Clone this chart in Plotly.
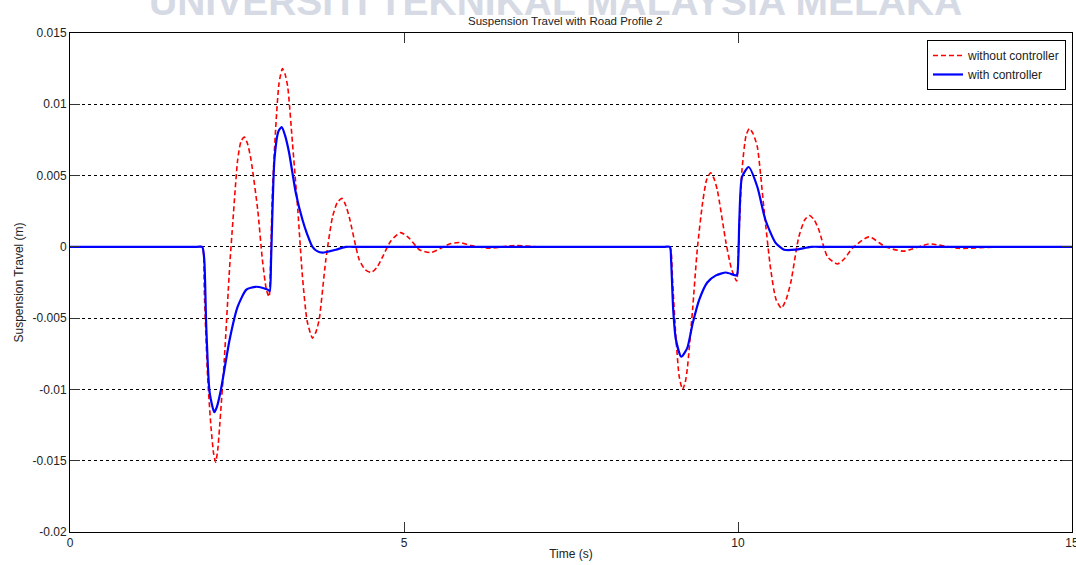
import plotly.graph_objects as go

# Time (s) and suspension travel (m) for the passive suspension
t_without = [0, 1.90, 1.98, 2.00, 2.01, 2.06, 2.11, 2.15, 2.18, 2.21, 2.24, 2.31, 2.39, 2.44,
             2.51, 2.56, 2.61, 2.66, 2.71, 2.81, 2.88, 2.94, 2.98, 3.00, 3.03, 3.08, 3.13,
             3.18, 3.22, 3.26, 3.33, 3.41, 3.48, 3.55, 3.63, 3.68, 3.73, 3.83, 3.93, 4.00,
             4.07, 4.12, 4.18, 4.33, 4.42, 4.51, 4.60, 4.68, 4.80, 4.95, 5.08, 5.23, 5.40,
             5.55, 5.68, 5.83, 6.00, 6.28, 6.65, 7.00, 7.30, 8.90, 8.98, 9.00, 9.02, 9.07,
             9.12, 9.17, 9.21, 9.24, 9.32, 9.39, 9.47, 9.53, 9.59, 9.64, 9.69, 9.82, 9.90,
             9.98, 10.00, 10.02, 10.06, 10.12, 10.17, 10.23, 10.29, 10.39, 10.49, 10.57,
             10.65, 10.72, 10.79, 10.91, 11.00, 11.07, 11.14, 11.21, 11.34, 11.49, 11.60,
             11.71, 11.96, 12.21, 12.48, 12.86, 13.30, 13.90, 14.20, 15.00]
y_without = [0, 0, 0, -0.0005, -0.0030, -0.0091, -0.0126, -0.0145, -0.0151, -0.0143, -0.0126,
             -0.0079, -0.0014, 0.0019, 0.0061, 0.0074, 0.0077, 0.0072, 0.0061, 0.0026,
             -0.0009, -0.0030, -0.0035, -0.0015, 0.0038, 0.0084, 0.0115, 0.0125, 0.0121,
             0.0112, 0.0073, 0.0026, -0.0021, -0.0052, -0.0064, -0.0060, -0.0051, -0.0009,
             0.0021, 0.0031, 0.0034, 0.0030, 0.0021, -0.0009, -0.0016, -0.0018, -0.0014,
             -0.0007, 0.0004, 0.0010, 0.0006, -0.0002, -0.0004, -0.0001, 0.0002, 0.0003,
             0.0001, -0.0001, 0.0001, 0, 0, 0, 0, -0.0004, -0.0023, -0.0063, -0.0091,
             -0.0100, -0.0095, -0.0086, -0.0044, -0.0002, 0.0031, 0.0047, 0.0052, 0.0048,
             0.0040, 0.0003, -0.0015, -0.0024, -0.0010, 0.0014, 0.0054, 0.0078, 0.0083,
             0.0079, 0.0070, 0.0026, -0.0016, -0.0037, -0.0043, -0.0037, -0.0025, 0.0007,
             0.0019, 0.0022, 0.0019, 0.0012, -0.0007, -0.0012, -0.0008, -0.0001, 0.0007, 0,
             -0.0003, 0.0002, -0.0001, 0, 0, 0]

# Time (s) and suspension travel (m) with the controller active
t_with = [0, 1.90, 1.98, 2.01, 2.04, 2.09, 2.16, 2.20, 2.26, 2.39, 2.51, 2.64, 2.78, 2.90,
          2.96, 2.99, 3.01, 3.06, 3.12, 3.17, 3.22, 3.28, 3.38, 3.48, 3.55, 3.63, 3.70,
          3.78, 3.98, 4.13, 4.30, 8.90, 8.98, 9.00, 9.03, 9.07, 9.15, 9.24, 9.32, 9.42,
          9.54, 9.67, 9.82, 9.97, 9.99, 10.02, 10.06, 10.16, 10.29, 10.41, 10.56, 10.69,
          10.86, 11.09, 11.30, 15.00]
y_with = [0, 0, 0, -0.0009, -0.0056, -0.0102, -0.0116, -0.0112, -0.0100, -0.0065, -0.0042,
          -0.0030, -0.0028, -0.0029, -0.0030, -0.0031, -0.0009, 0.0061, 0.0081, 0.0084,
          0.0078, 0.0066, 0.0038, 0.0019, 0.0009, 0.0000, -0.0003, -0.0004, -0.0002, 0, 0,
          0, 0, -0.0011, -0.0044, -0.0065, -0.0077, -0.0071, -0.0054, -0.0037, -0.0025,
          -0.0020, -0.0018, -0.0020, -0.0019, 0.0019, 0.0049, 0.0056, 0.0042, 0.0019,
          0.0003, -0.0002, -0.0002, 0, 0, 0]

x_ticks = [0, 5, 10, 15]
y_ticks = [-0.02, -0.015, -0.01, -0.005, 0, 0.005, 0.01, 0.015]
y_tick_text = ["-0.02", "-0.015", "-0.01", "-0.005", "0", "0.005", "0.01", "0.015"]

FONT = "Liberation Sans, Arial, sans-serif"

fig = go.Figure()
fig.add_trace(go.Scatter(
    x=t_without, y=y_without, mode="lines", name="without controller",
    line=dict(color="#ff0000", width=1.6, dash="5px,3px", shape="spline", smoothing=0.6),
))
fig.add_trace(go.Scatter(
    x=t_with, y=y_with, mode="lines", name="with controller",
    line=dict(color="#0000ff", width=2.2, shape="spline", smoothing=0.6),
))

axis_common = dict(
    showline=True, linecolor="black", linewidth=1, mirror="ticks",
    ticks="inside", ticklen=10, tickcolor="#333333", tickwidth=1,
    tickfont=dict(family=FONT, size=12, color="#222222"),
    zeroline=False, ticklabeloverflow="allow", automargin=False,
)

fig.update_layout(
    width=1076, height=565,
    margin=dict(l=70, r=4, t=33, b=33, autoexpand=False),
    paper_bgcolor="white", plot_bgcolor="white",
    font=dict(family=FONT, size=12, color="#222222"),
    showlegend=True,
    legend=dict(
        x=0.994, y=0.986, xanchor="right", yanchor="top",
        bordercolor="black", borderwidth=1, bgcolor="white",
        font=dict(family=FONT, size=12, color="#222222"),
        tracegroupgap=0, itemwidth=30,
    ),
    xaxis=dict(
        range=[0, 15], tickvals=x_ticks, ticktext=[str(v) for v in x_ticks],
        showgrid=False,
        title=dict(text="Time (s)", font=dict(family=FONT, size=12), standoff=0),
        **axis_common,
    ),
    yaxis=dict(
        range=[-0.02, 0.015], tickvals=y_ticks, ticktext=y_tick_text,
        showgrid=True, gridcolor="black", gridwidth=1, griddash="dot",
        title=dict(text="Suspension Travel (m)", font=dict(family=FONT, size=12), standoff=6),
        **axis_common,
    ),
    annotations=[
        dict(text="<b>UNIVERSITI TEKNIKAL MALAYSIA MELAKA</b>", xref="paper", yref="paper",
             x=0.485, y=1.017, xanchor="center", yanchor="bottom", showarrow=False,
             font=dict(family=FONT, size=39, color="#d6dae4")),
        dict(text="Suspension Travel with Road Profile 2", xref="paper", yref="paper",
             x=0.494, y=1.0, xanchor="center", yanchor="bottom", showarrow=False,
             yshift=4, font=dict(family=FONT, size=11.5, color="#222222")),
    ],
)

fig.write_html("out.html")
